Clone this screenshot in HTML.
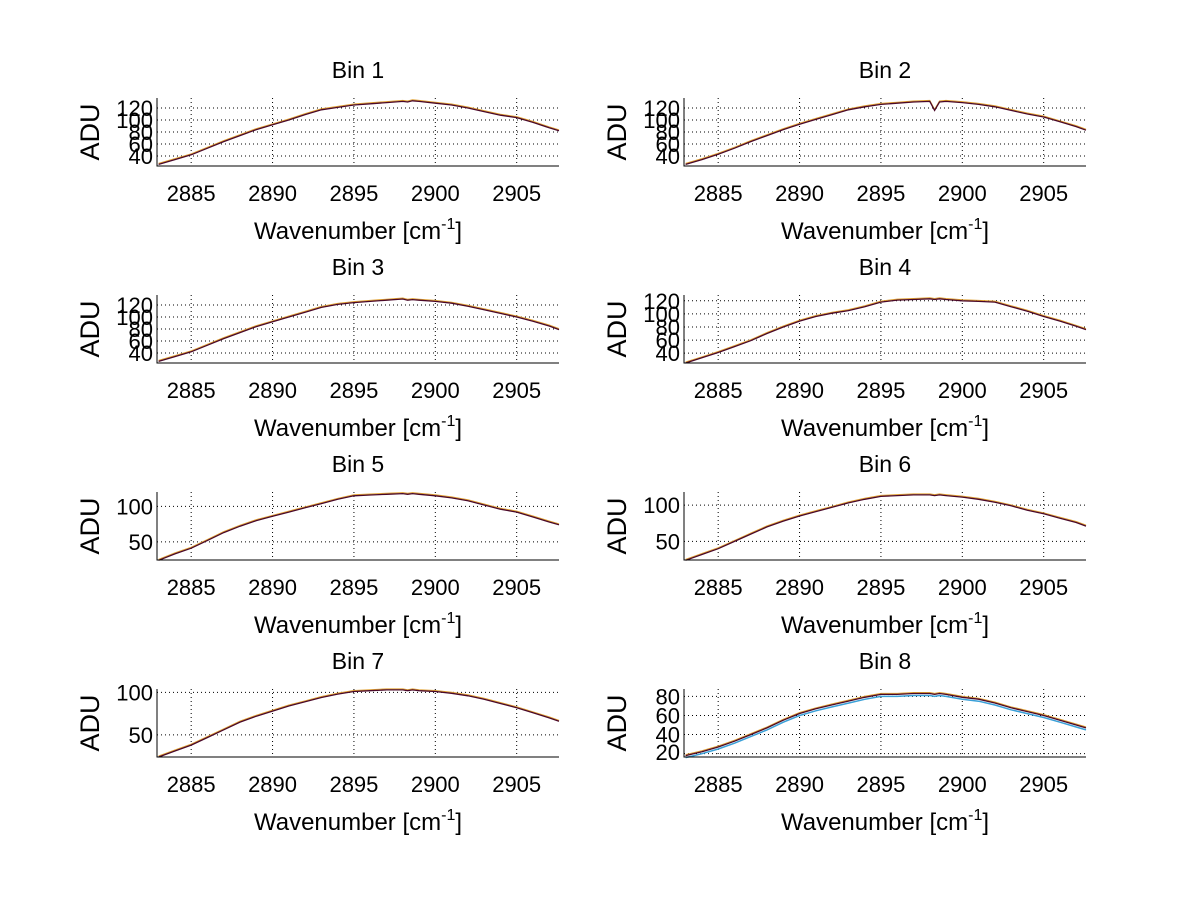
<!DOCTYPE html>
<html><head><meta charset="utf-8">
<style>
html,body{margin:0;padding:0;background:#fff;}
svg{display:block;font-family:"Liberation Sans",Arial,sans-serif;}
</style></head>
<body>
<svg id="fig" width="1200" height="901" viewBox="0 0 1200 901"></svg>
<script>
// shared x samples (wavenumber, cm^-1)
const xs = [2883,2884,2885,2886,2887,2888,2889,2890,2891,2892,2893,2894,2895,2896,2897,2898,2898.3,2898.6,2899,2900,2901,2902,2903,2904,2905,2906,2907,2907.6];
const xTicks = [2885,2890,2895,2900,2905];
const xlim = [2882.9,2907.6];
// per-bin values
const bin1 = [26,34,42,53,64,74,84,92,100,109,117,121,125,127,129,131,130,132,131,128,125,120,114,108,104,96,87,82];
const bin2 = [26,34,43,53,64,74,84,93,101,109,117,122,126,128,130,131,116,130,131,129,126,122,116,110,105,97,89,83];
const bin3 = [26,34,42,53,64,74,84,92,100,108,116,121,124,126,128,130,128,129,128,126,123,118,112,106,100,93,85,79];
const bin4 = [25,33,41,50,59,70,80,89,96,101,105,111,118,121,122,123,122,123,122,120,119,118,111,104,96,89,81,76];
const bin5 = [24,33,41,52,63,72,80,86,92,98,104,110,115,116,117,118,117,118,117,115,112,108,102,96,92,85,78,74];
const bin6 = [24,32,40,50,60,70,78,85,91,97,103,108,112,113,114,114,113,114,113,111,108,104,99,93,88,82,76,71];
const bin7 = [24,31,38,47,56,65,72,78,84,89,94,98,101,102,103,103,102,103,102,101,99,96,92,87,82,76,70,66];
const bin8 = [18,22,27,33,40,47,55,62,67,71,75,79,82,82,83,83,82,83,82,79,77,73,68,64,60,55,50,47];
const binValues = [bin1,bin2,bin3,bin4,bin5,bin6,bin7,bin8];
const binTitles = ["Bin 1","Bin 2","Bin 3","Bin 4","Bin 5","Bin 6","Bin 7","Bin 8"];
const ylims = [[23.3,136.7],[23.3,136.7],[23.3,136.7],[25,128.8],[24.4,120.3],[24.4,118],[24,104],[16.5,87.7]];
const yTicksList = [[40,60,80,100,120],[40,60,80,100,120],[40,60,80,100,120],[40,60,80,100,120],[50,100],[50,100],[50,100],[20,40,60,80]];

const NS="http://www.w3.org/2000/svg";
const svg=document.getElementById('fig');
function mk(tag,attrs,parent){const e=document.createElementNS(NS,tag);for(const k in attrs)e.setAttribute(k,attrs[k]);(parent||svg).appendChild(e);return e;}

for(let i=0;i<8;i++){
  const col=i%2,row=Math.floor(i/2);
  const L=col?684:157,R=col?1086:559,T=98+row*197,B=166+row*197;
  const ylim=ylims[i];
  const xf=v=>L+(v-xlim[0])/(xlim[1]-xlim[0])*(R-L);
  const yf=v=>B-(v-ylim[0])/(ylim[1]-ylim[0])*(B-T);
  const g=mk('g',{});
  
  
  xTicks.forEach(t=>{const l=mk('line',{x1:xf(t),x2:xf(t),y1:T,y2:B,stroke:'#000','stroke-width':1,'stroke-dasharray':'1,3'},g);
    });
  yTicksList[i].forEach(t=>{const l=mk('line',{x1:L,x2:R,y1:yf(t),y2:yf(t),stroke:'#000','stroke-width':1,'stroke-dasharray':'1,3'},g);
    });
  const pts=xs.map((x,k)=>xf(x).toFixed(1)+','+yf(binValues[i][k]).toFixed(1)).join(' ');
  if(i===7){const s=mk('polyline',{points:xs.map((x,k)=>xf(x).toFixed(1)+','+(yf(binValues[i][k])+2).toFixed(1)).join(' '),fill:'none',stroke:'#3aa0d8','stroke-width':1.5},g);
    }
  const s2=mk('polyline',{points:xs.map((x,k)=>xf(x).toFixed(1)+','+(yf(binValues[i][k])-1).toFixed(1)).join(' '),fill:'none',stroke:'#e0a030','stroke-width':1},g);
  
  const s=mk('polyline',{points:pts,fill:'none',stroke:'#4a0828','stroke-width':1.3},g);
  
  const ax=mk('path',{d:`M${L},${T}V${B}H${R}`,fill:'none',stroke:'#000','stroke-width':1},g);
  
  xTicks.forEach(t=>{const tx=mk('text',{x:xf(t),y:B+35,'text-anchor':'middle','font-size':22},g);tx.textContent=t;
    });
  yTicksList[i].forEach(t=>{const yy=Math.min(yf(t)+8,B+3);const tx=mk('text',{x:L-4,y:yy,'text-anchor':'end','font-size':22},g);tx.textContent=t;
    });
  const cx=(L+R)/2;
  const ti=mk('text',{x:cx,y:T-20,'text-anchor':'middle','font-size':23},g);ti.textContent=binTitles[i];
  
  const xl=mk('text',{x:cx,y:B+73,'text-anchor':'middle','font-size':24},g);
  
  xl.innerHTML='Wavenumber [cm<tspan dy="-10" font-size="16">-1</tspan><tspan dy="10">]</tspan>';
  const yl=mk('text',{x:0,y:0,'text-anchor':'middle','font-size':27,transform:`translate(${L-58},${(T+B)/2}) rotate(-90)`},g);
  yl.textContent='ADU';
  
}
</script>
</body></html>
